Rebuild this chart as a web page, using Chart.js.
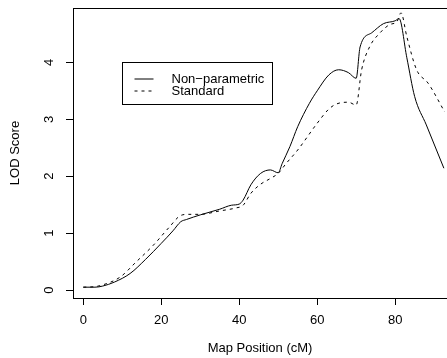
<!DOCTYPE html>
<html>
<head>
<meta charset="utf-8">
<script src="https://cdn.jsdelivr.net/npm/chart.js@4/dist/chart.umd.min.js"></script>
<style>
  body { margin: 0; background: #fff; }
  #wrap { width: 447px; height: 358px; }
</style>
</head>
<body>
<div id="wrap"><canvas id="lod" width="447" height="358"></canvas></div>
<script>
// map positions (cM) and LOD scores
var nonParamPos = [0, 3, 5, 8, 12, 16, 20, 23, 25, 26.5, 30, 35, 38, 40, 41, 43, 45.5, 48, 50, 51, 53, 55, 58, 60, 63, 65.5, 68, 70, 71, 74, 77, 80, 81, 83, 85, 88, 92.5];
var nonParamLod = [0.05, 0.05, 0.07, 0.14, 0.29, 0.54, 0.82, 1.04, 1.2, 1.24, 1.32, 1.42, 1.49, 1.51, 1.58, 1.85, 2.05, 2.11, 2.06, 2.22, 2.52, 2.87, 3.28, 3.5, 3.78, 3.87, 3.82, 3.72, 4.27, 4.52, 4.68, 4.73, 4.77, 4.08, 3.4, 2.9, 2.14];
var standardPos = [0, 3, 5, 9.5, 13.5, 18, 22, 25, 27, 30, 35, 39, 41, 43, 45.5, 48, 50, 52, 55, 60, 63, 65, 68, 70, 71.4, 73.5, 76, 78.5, 80.5, 81.5, 83, 85.5, 88.5, 92.7];
var standardLod = [0.05, 0.06, 0.09, 0.23, 0.49, 0.79, 1.1, 1.31, 1.33, 1.33, 1.39, 1.44, 1.49, 1.7, 1.86, 1.96, 2.05, 2.22, 2.46, 2.93, 3.18, 3.27, 3.3, 3.25, 3.87, 4.28, 4.51, 4.66, 4.72, 4.87, 4.45, 3.87, 3.63, 3.13];
var seriesNames = ["Non\u2212parametric", "Standard"];
var xTicks = [0, 20, 40, 60, 80];
var yTicks = [0, 1, 2, 3, 4];

var FONT = "'Liberation Sans', Arial, Helvetica, sans-serif";

function pairs(xs, ys) {
  return xs.map(function (x, i) { return { x: x, y: ys[i] }; });
}

// box (left, top, bottom) + legend like the R plot
var boxAndLegend = {
  id: "boxAndLegend",
  afterDraw: function (chart) {
    var ctx = chart.ctx;
    var a = chart.chartArea;
    ctx.save();
    ctx.strokeStyle = "#000";
    ctx.lineWidth = 1;
    ctx.beginPath();
    ctx.moveTo(a.left + 0.5, a.top + 0.5);
    ctx.lineTo(chart.width + 2, a.top + 0.5);
    ctx.stroke();

    var lx = Math.round(chart.scales.x.getPixelForValue(10)) + 0.5;
    var ly = Math.round(chart.scales.y.getPixelForValue(4)) + 0.5;
    ctx.strokeRect(lx, ly, 150, 42);
    ctx.font = "13px " + FONT;
    ctx.fillStyle = "#000";
    ctx.textBaseline = "middle";
    chart.data.datasets.forEach(function (ds, i) {
      var yy = ly + 16.5 + i * 12;
      ctx.setLineDash(ds.borderDash || []);
      ctx.beginPath();
      ctx.moveTo(lx + 12, yy);
      ctx.lineTo(lx + 31, yy);
      ctx.stroke();
      ctx.setLineDash([]);
      ctx.fillText(ds.label, lx + 49, yy);
    });
    ctx.restore();
  }
};

new Chart(document.getElementById("lod").getContext("2d"), {
  type: "line",
  data: {
    datasets: [
      {
        label: seriesNames[0],
        data: pairs(nonParamPos, nonParamLod),
        borderColor: "#000",
        borderWidth: 1,
        pointRadius: 0,
        cubicInterpolationMode: "monotone",
        fill: false,
      },
      {
        label: seriesNames[1],
        data: pairs(standardPos, standardLod),
        borderColor: "#000",
        borderWidth: 1,
        borderDash: [3, 4],
        pointRadius: 0,
        cubicInterpolationMode: "monotone",
        fill: false,
      },
    ],
  },
  options: {
    responsive: false,
    animation: false,
    devicePixelRatio: 1,
    layout: { padding: { top: 8, right: 0, left: 0, bottom: 0 } },
    plugins: {
      legend: { display: false },
      tooltip: { enabled: false },
    },
    scales: {
      x: {
        type: "linear",
        min: -2.64,
        max: 93.3,
        afterFit: function (s) { s.height = 60; s.paddingLeft = 0; s.paddingRight = 0; },
        afterBuildTicks: function (s) { s.ticks = xTicks.map(function (v) { return { value: v }; }); },
        grid: { drawOnChartArea: false, drawTicks: true, tickLength: 7, color: "#000", tickColor: "#000" },
        border: { display: true, color: "#000", width: 1 },
        ticks: { color: "#000", font: { family: FONT, size: 13 }, padding: 8, maxRotation: 0, autoSkip: false },
        title: { display: true, text: "Map Position (cM)", color: "#000", font: { family: FONT, size: 13 }, padding: { top: 0, bottom: 2 } },
      },
      y: {
        type: "linear",
        min: -0.14,
        max: 4.955,
        afterFit: function (s) { s.width = 73; s.paddingTop = 0; s.paddingBottom = 0; },
        afterBuildTicks: function (s) { s.ticks = yTicks.map(function (v) { return { value: v }; }); },
        grid: { drawOnChartArea: false, drawTicks: true, tickLength: 7, color: "#000", tickColor: "#000" },
        border: { display: true, color: "#000", width: 1 },
        ticks: { color: "#000", font: { family: FONT, size: 13 }, padding: 13, minRotation: 90, maxRotation: 90, crossAlign: "center", autoSkip: false },
        title: { display: true, text: "LOD Score", color: "#000", font: { family: FONT, size: 13 }, padding: { top: 8, bottom: 0 } },
      },
    },
  },
  plugins: [boxAndLegend],
});
</script>
</body>
</html>
